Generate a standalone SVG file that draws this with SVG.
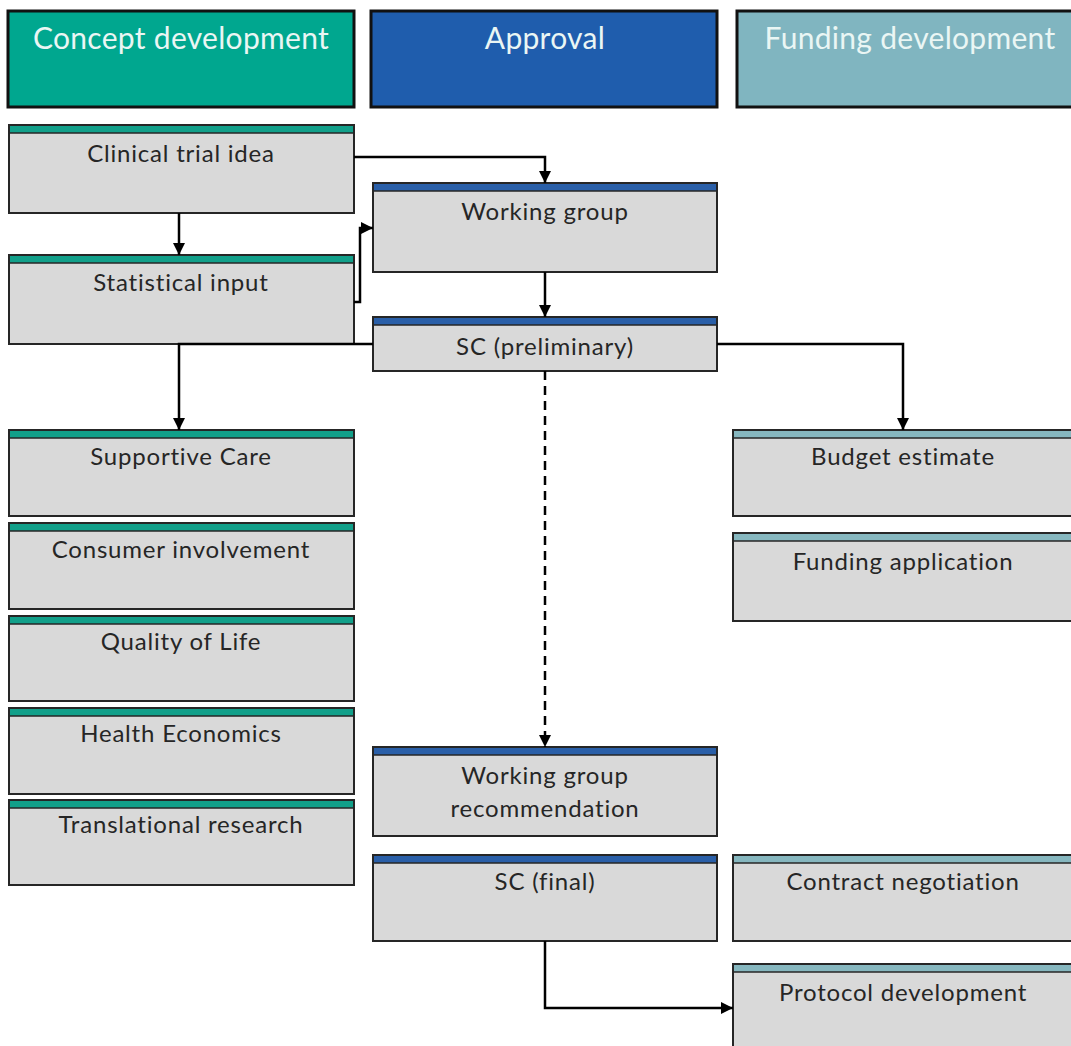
<svg xmlns="http://www.w3.org/2000/svg" width="1071" height="1046" viewBox="0 0 1071 1046">
<style>
.hdr{stroke:#111;stroke-width:3}
.htxt{font-family:Lato,"Open Sans",sans-serif;font-size:30px;letter-spacing:0.3px;fill:#EAF6F4;text-anchor:middle}
.box{fill:#D9D9D9;stroke:#262626;stroke-width:2}
.txt{font-family:Lato,"Open Sans",sans-serif;font-size:24px;letter-spacing:0.8px;fill:#262626;text-anchor:middle}
.bt{fill:#12A08A}
.bb{fill:#2A5FA8}
.bl{fill:#86B7BF}
.sep{stroke:#262626;stroke-width:1.5}
.con{fill:none;stroke:#000;stroke-width:2.5}
.dash{stroke-dasharray:9 6}
</style>
<defs>
<marker id="arr" viewBox="0 0 10 10" refX="10" refY="5" markerWidth="5" markerHeight="5" orient="auto" markerUnits="strokeWidth">
<path d="M0,0 L10,5 L0,10 z" fill="#000"/>
</marker>
</defs>
<rect width="1071" height="1046" fill="#fff"/>
<g id="hdr-concept"><rect class="hdr" x="8" y="11" width="346" height="96" fill="#00A78F"/><text class="htxt" x="181" y="49">Concept development</text></g>
<g id="hdr-approval"><rect class="hdr" x="371" y="11" width="346" height="96" fill="#1F5DAD"/><text class="htxt" x="545" y="49">Approval</text></g>
<g id="hdr-funding"><rect class="hdr" x="737" y="11" width="350" height="96" fill="#80B5C0"/><text class="htxt" x="910" y="49">Funding development</text></g>

<g id="n-clinical"><rect class="box" x="9" y="125" width="345" height="88"/><rect class="bt" x="10" y="126" width="343" height="7"/><line class="sep" x1="9" y1="133" x2="354" y2="133"/><text class="txt" x="181" y="162">Clinical trial idea</text></g>
<g id="n-stat"><rect class="box" x="9" y="255" width="345" height="89"/><rect class="bt" x="10" y="256" width="343" height="7"/><line class="sep" x1="9" y1="263" x2="354" y2="263"/><text class="txt" x="181" y="291">Statistical input</text></g>
<g id="n-supportive"><rect class="box" x="9" y="430" width="345" height="86"/><rect class="bt" x="10" y="431" width="343" height="7"/><line class="sep" x1="9" y1="438" x2="354" y2="438"/><text class="txt" x="181" y="465">Supportive Care</text></g>
<g id="n-consumer"><rect class="box" x="9" y="523" width="345" height="86"/><rect class="bt" x="10" y="524" width="343" height="7"/><line class="sep" x1="9" y1="531" x2="354" y2="531"/><text class="txt" x="181" y="558">Consumer involvement</text></g>
<g id="n-qol"><rect class="box" x="9" y="616" width="345" height="85"/><rect class="bt" x="10" y="617" width="343" height="7"/><line class="sep" x1="9" y1="624" x2="354" y2="624"/><text class="txt" x="181" y="650">Quality of Life</text></g>
<g id="n-health"><rect class="box" x="9" y="708" width="345" height="86"/><rect class="bt" x="10" y="709" width="343" height="7"/><line class="sep" x1="9" y1="716" x2="354" y2="716"/><text class="txt" x="181" y="742">Health Economics</text></g>
<g id="n-trans"><rect class="box" x="9" y="800" width="345" height="85"/><rect class="bt" x="10" y="801" width="343" height="7"/><line class="sep" x1="9" y1="808" x2="354" y2="808"/><text class="txt" x="181" y="833">Translational research</text></g>

<g id="n-wg"><rect class="box" x="373" y="183" width="344" height="89"/><rect class="bb" x="374" y="184" width="342" height="7"/><line class="sep" x1="373" y1="191" x2="717" y2="191"/><text class="txt" x="545" y="220">Working group</text></g>
<g id="n-scpre"><rect class="box" x="373" y="317" width="344" height="54"/><rect class="bb" x="374" y="318" width="342" height="7"/><line class="sep" x1="373" y1="325" x2="717" y2="325"/><text class="txt" x="545" y="355">SC (preliminary)</text></g>
<g id="n-wgrec"><rect class="box" x="373" y="747" width="344" height="89"/><rect class="bb" x="374" y="748" width="342" height="7"/><line class="sep" x1="373" y1="755" x2="717" y2="755"/><text class="txt" x="545" y="784">Working group</text><text class="txt" x="545" y="817">recommendation</text></g>
<g id="n-scfinal"><rect class="box" x="373" y="855" width="344" height="86"/><rect class="bb" x="374" y="856" width="342" height="7"/><line class="sep" x1="373" y1="863" x2="717" y2="863"/><text class="txt" x="545" y="890">SC (final)</text></g>

<g id="n-budget"><rect class="box" x="733" y="430" width="350" height="86"/><rect class="bl" x="734" y="431" width="348" height="7"/><line class="sep" x1="733" y1="438" x2="1083" y2="438"/><text class="txt" x="903" y="465">Budget estimate</text></g>
<g id="n-fundapp"><rect class="box" x="733" y="533" width="350" height="88"/><rect class="bl" x="734" y="534" width="348" height="7"/><line class="sep" x1="733" y1="541" x2="1083" y2="541"/><text class="txt" x="903" y="570">Funding application</text></g>
<g id="n-contract"><rect class="box" x="733" y="855" width="350" height="86"/><rect class="bl" x="734" y="856" width="348" height="7"/><line class="sep" x1="733" y1="863" x2="1083" y2="863"/><text class="txt" x="903" y="890">Contract negotiation</text></g>
<g id="n-protocol"><rect class="box" x="733" y="964" width="350" height="100"/><rect class="bl" x="734" y="965" width="348" height="7"/><line class="sep" x1="733" y1="972" x2="1083" y2="972"/><text class="txt" x="903" y="1001">Protocol development</text></g>

<g id="connectors">
<path class="con" d="M354,157 H545 V183" marker-end="url(#arr)"/>
<path class="con" d="M179,213 V255" marker-end="url(#arr)"/>
<path class="con" d="M354,302 H360 V228 H373" marker-end="url(#arr)"/>
<path class="con" d="M545,272 V317" marker-end="url(#arr)"/>
<path class="con" d="M373,344 H179 V430" marker-end="url(#arr)"/>
<path class="con" d="M717,344 H903 V430" marker-end="url(#arr)"/>
<path class="con dash" d="M545,371 V747" marker-end="url(#arr)"/>
<path class="con" d="M545,941 V1008 H733" marker-end="url(#arr)"/>
</g>
</svg>
